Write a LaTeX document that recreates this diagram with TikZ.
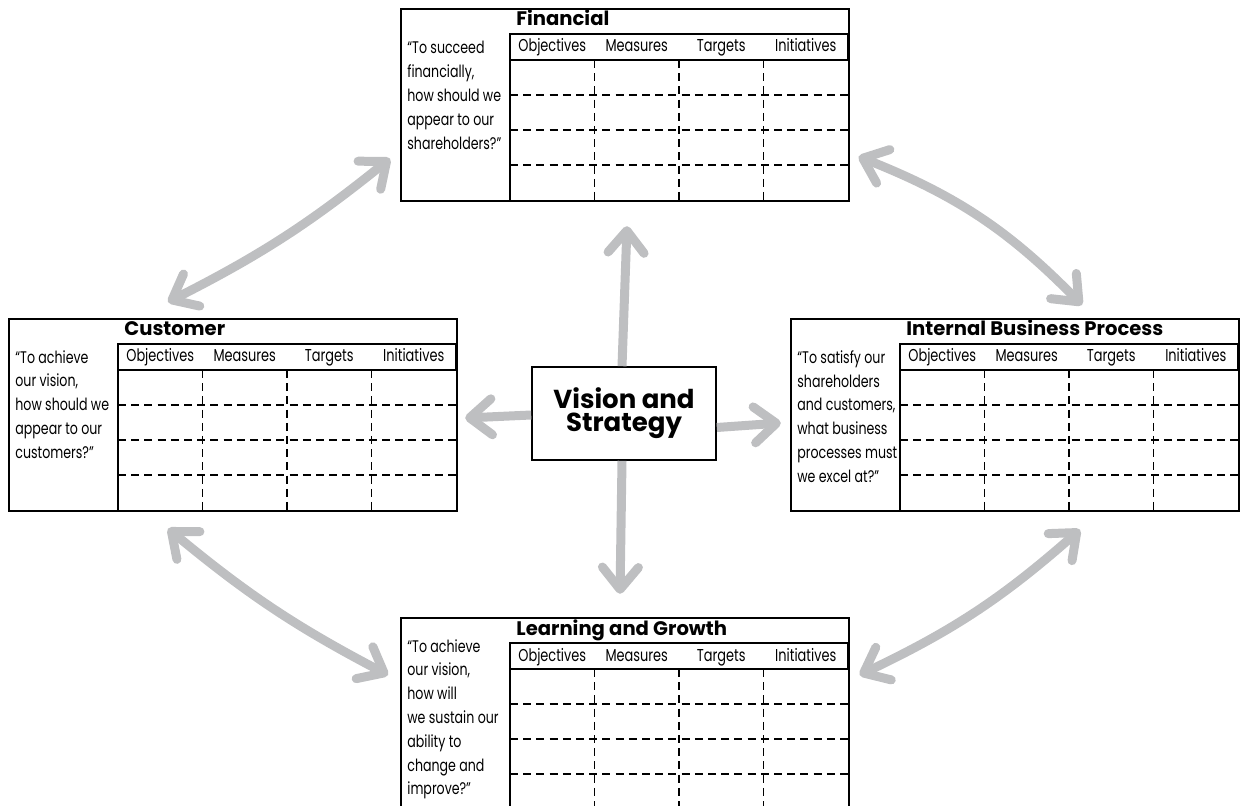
\documentclass[tikz,border=0pt]{standalone}
\usepackage{fontspec}
\setmainfont{Poppins}[FakeStretch=0.75]
\newfontfamily\titlefont{Poppins}
\usepackage{tikz}
\usetikzlibrary{arrows.meta,calc}
\definecolor{arrowgray}{RGB}{190,191,193}

\begin{document}
\begin{tikzpicture}[x=0.5pt,y=-0.5pt]
	\tikzset{box/.style={draw,line width=0.8pt,minimum width=224pt,minimum height=96pt,inner sep=0pt,anchor=north west},
		frame/.style={line width=1.1pt},
		grid/.style={line width=0.85pt,dash pattern=on 4pt off 2.6pt},
		hd/.style={anchor=base,inner sep=0pt,font=\fontsize{8.6}{10}\selectfont},
		ttl/.style={anchor=base west,inner sep=0pt,font=\titlefont\bfseries\fontsize{9.8}{11}\selectfont},
		quest/.style={anchor=north west,inner sep=0pt,align=left,font=\fontsize{8.4}{11.9}\selectfont},
		bigarrow/.style={arrowgray,line width=4.5pt,>={Straight Barb[length=11pt,width=18pt,round]}}}
	\useasboundingbox (0,0) rectangle (1241,806);
	\clip (0,0) rectangle (1241,806);

	% the four perspectives
	\foreach \nm/\x/\y/\qy/\ttl/\qtext in {
		fin/400/8/33/Financial/{“To succeed\\financially,\\how should we\\appear to our\\shareholders?”},
		cust/8/318/32/Customer/{“To achieve\\our vision,\\how should we\\appear to our\\customers?”},
		intp/790/318/32/Internal Business Process/{“To satisfy our\\shareholders\\and customers,\\what business\\processes must\\we excel at?”},
		learn/400/617/22/Learning and Growth/{“To achieve\\our vision,\\how will\\we sustain our\\ability to\\change and\\improve?”}}
	{
		\node[box] (\nm) at (\x,\y) {};
		\node[ttl] (\nm-t) at (\x+116,\y+18) {\ttl};
		\node[quest] (\nm-q) at (\x+7,\y+\qy) {\qtext};
		\draw[frame] (\x+110,\y+26) rectangle (\x+448,\y+52) (\x+110,\y+52) -- (\x+110,\y+192);
		\foreach \r in {87,122,157}
			\draw[grid] (\x+110,\y+\r) -- (\x+448,\y+\r);
		\foreach \c in {1,2,3}
			\draw[grid] (\x+110+84.5*\c,\y+52) -- (\x+110+84.5*\c,\y+192);
		\foreach \h [count=\c] in {Objectives,Measures,Targets,Initiatives}
			\node[hd] (\nm-h\c) at (\x+67.75+84.5*\c,\y+44) {\h};
	}

	\node[draw,line width=0.8pt,fill=white,minimum width=92pt,minimum height=46.5pt,align=center,inner sep=0pt,
		font=\titlefont\bfseries\fontsize{13}{11.5}\selectfont] (vis) at (624,413.5) {Vision and\\Strategy};

	% links between the perspectives
	\draw[bigarrow,<->] ($(fin.south west)+(-10,-43)$) to[bend left=6] ($(cust.north west)+(160,-16)$);
	\draw[bigarrow,<->] ($(fin.south east)+(9,-45)$) to[bend left=12] ($(intp.north west)+(292,-13)$);
	\draw[bigarrow,<->] ($(cust.south west)+(160,17)$) to[bend right=6] ($(learn.north west)+(-12,58)$);
	\draw[bigarrow,<->] ($(intp.south west)+(290,18)$) to[bend left=8] ($(learn.north east)+(10,58)$);

	% from vision and strategy
	\draw[bigarrow,->] ($(vis.north)+(-2,0)$) -- ($(vis.north)+(3,-140)$);
	\draw[bigarrow,->] ($(vis.south)+(-2,0)$) -- ($(vis.south)+(-4,133)$);
	\draw[bigarrow,->] ($(vis.west)+(0,1.5)$) -- ($(vis.west)+(-66,4.5)$);
	\draw[bigarrow,->] ($(vis.east)+(0,14)$) -- ($(vis.east)+(64,9.5)$);
\end{tikzpicture}
\end{document}
